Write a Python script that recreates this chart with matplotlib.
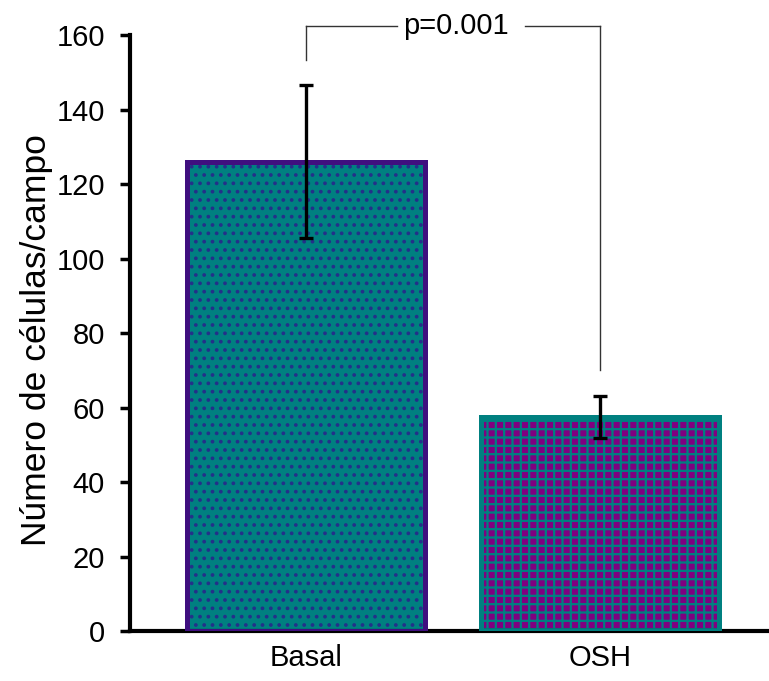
import matplotlib
matplotlib.use("Agg")
import matplotlib.pyplot as plt

# Data
categories = ["Basal", "OSH"]
means = [126, 57.5]
errors = [20.5, 5.7]
y_ticks = [0, 20, 40, 60, 80, 100, 120, 140, 160]
p_label = "p=0.001"

face_colors = ["#008080", "#800080"]
hatch_colors = ["#23308a", "#008080"]
hatches = ["..", "++"]
hatch_widths = [1.5, 1.6]
edge_colors = ["#3f0f7f", "#008080"]

plt.rcParams["font.family"] = ["Liberation Sans", "DejaVu Sans"]

fig = plt.figure(figsize=(7.69, 6.81), dpi=100)
ax = fig.add_axes([0.169, 0.0734, 0.831, 0.8752])

x = [0, 1]
width = 0.81
# Patterned fill, one bar at a time so each keeps its own hatch weight
for xi, m, fc, hc, h, hw in zip(x, means, face_colors, hatch_colors, hatches, hatch_widths):
    with plt.rc_context({"hatch.linewidth": hw}):
        bars = ax.bar([xi], [m], width=width, color=fc, hatch=h,
                      edgecolor=hc, linewidth=0, zorder=2)
    for p in bars:
        if hasattr(p, "set_hatch_linewidth"):
            p.set_hatch_linewidth(hw)
# Bar outlines
ax.bar(x, means, width=width, fill=False, edgecolor=edge_colors,
       linewidth=3.6, zorder=3)
ax.errorbar(x, means, yerr=errors, fmt="none", ecolor="black",
            elinewidth=2.4, capsize=5, capthick=2.4, zorder=4)

ax.set_xlim(-0.601, 1.577)
ax.set_ylim(0, 160)
ax.set_yticks(y_ticks)
ax.set_xticks(x)
ax.set_xticklabels(categories)
ax.tick_params(axis="y", labelsize=21, width=2.5, length=7, direction="out", pad=11)
ax.tick_params(axis="x", labelsize=21, length=0, pad=9)
ax.set_ylabel("Número de células/campo", fontsize=25.5)
ax.yaxis.set_label_coords(-0.12, 0.488)

for side in ["top", "right"]:
    ax.spines[side].set_visible(False)
for side in ["left", "bottom"]:
    ax.spines[side].set_linewidth(3)

# Significance bracket
y_top = 162.4
line_kw = dict(color="#333333", linewidth=1, clip_on=False, zorder=5)
ax.plot([0, 0], [153.3, y_top], **line_kw)
ax.plot([0, 0.31], [y_top, y_top], **line_kw)
ax.plot([0.745, 1], [y_top, y_top], **line_kw)
ax.plot([1, 1], [y_top, 70], **line_kw)
ax.text(0.51, y_top, p_label, ha="center", va="center", fontsize=21,
        clip_on=False)

fig.savefig("out.png", dpi=100)
